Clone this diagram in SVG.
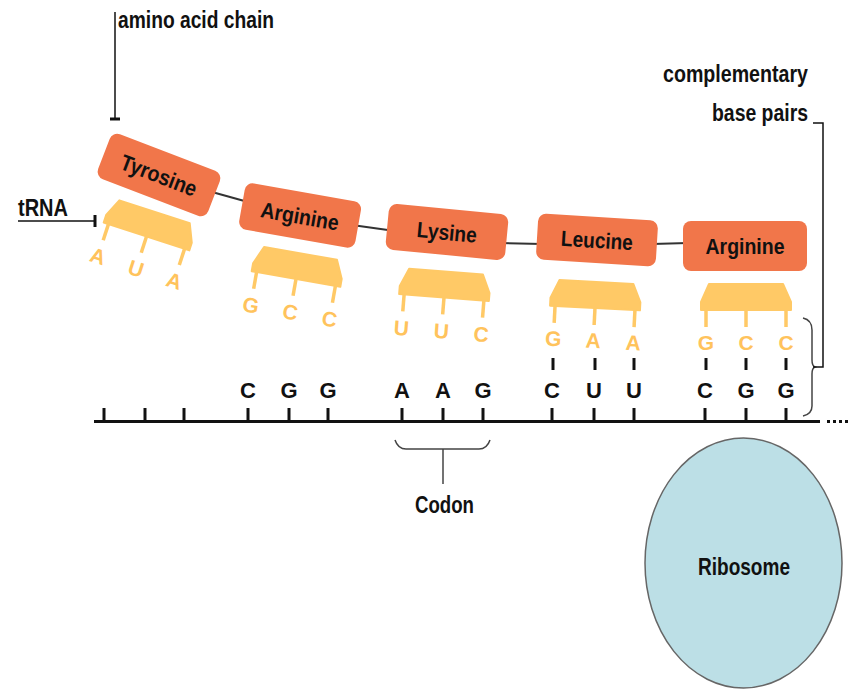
<svg xmlns="http://www.w3.org/2000/svg" width="854" height="689" viewBox="0 0 854 689">
<style>
text{font-family:"Liberation Sans",Arial,sans-serif;font-weight:bold;fill:#111}
.lbl{font-size:23px}
.node rect{fill:#F1764A}
.node text{font-size:22px;text-anchor:middle;fill:#111}
.trap{fill:#FFC966;stroke:#FFC966;stroke-width:2;stroke-linejoin:round}
.leg{stroke:#FFC966;stroke-width:3.5}
.ob{font-size:21px;fill:#FFC35C;text-anchor:middle}
.base{font-size:22px;text-anchor:middle;fill:#111}
.line{stroke:#111;fill:none}
.gray{stroke:#444;fill:none;stroke-width:1.5}
.link{stroke:#333;stroke-width:2;fill:none}
</style>
<defs>
<g id="trna">
<path class="trap" d="M-37,-26 L37,-26 L45,-8 L45,0 L-45,0 L-45,-8 Z"/>
<line class="leg" x1="-40" y1="0" x2="-40" y2="17"/>
<line class="leg" x1="0" y1="0" x2="0" y2="17"/>
<line class="leg" x1="40" y1="0" x2="40" y2="17"/>
</g>
</defs>

<g id="connectors">
<line class="link" x1="212" y1="192" x2="248" y2="202"/>
<line class="link" x1="352" y1="225" x2="395" y2="231"/>
<line class="link" x1="500" y1="243" x2="542" y2="244"/>
<line class="link" x1="652" y1="244" x2="688" y2="243"/>
<polyline class="line" stroke-width="1.5" points="115,12 115,119"/>
<line class="line" stroke-width="3" x1="110" y1="119" x2="120" y2="119"/>
<line class="line" stroke-width="1.5" x1="18" y1="221" x2="95" y2="221"/>
<line class="line" stroke-width="3" x1="95" y1="215" x2="95" y2="227"/>
<path class="gray" d="M395,440 Q398,449 406,449 L479,449 Q487,449 490,440"/>
<line class="gray" x1="443" y1="449" x2="443" y2="484"/>
<path class="gray" d="M803,318 Q812,320 812,330 L812,360 Q812,366 815,367 Q812,368 812,374 L812,406 Q812,414 803,416"/>
<polyline class="line" stroke-width="1.5" points="813,367 823,367 823,123 813,123"/>
</g>

<g id="mrna">
<line class="line" stroke-width="3" x1="94" y1="421.5" x2="820" y2="421.5"/>
<line class="line" stroke-width="3" stroke-dasharray="3,3" x1="827" y1="421.5" x2="851" y2="421.5"/>
<g class="line" stroke-width="3">
<line x1="104" y1="408" x2="104" y2="421"/><line x1="145" y1="408" x2="145" y2="421"/><line x1="184" y1="408" x2="184" y2="421"/>
<line x1="248" y1="408" x2="248" y2="421"/><line x1="289" y1="408" x2="289" y2="421"/><line x1="328" y1="408" x2="328" y2="421"/>
<line x1="402" y1="408" x2="402" y2="421"/><line x1="443" y1="408" x2="443" y2="421"/><line x1="483" y1="408" x2="483" y2="421"/>
<line x1="552" y1="408" x2="552" y2="421"/><line x1="594" y1="408" x2="594" y2="421"/><line x1="634" y1="408" x2="634" y2="421"/>
<line x1="705" y1="408" x2="705" y2="421"/><line x1="746" y1="408" x2="746" y2="421"/><line x1="786" y1="408" x2="786" y2="421"/>
<line x1="553" y1="358" x2="553" y2="370"/><line x1="595" y1="358" x2="595" y2="370"/><line x1="634" y1="358" x2="634" y2="370"/>
<line x1="706" y1="358" x2="706" y2="370"/><line x1="746" y1="358" x2="746" y2="370"/><line x1="786" y1="358" x2="786" y2="370"/>
</g>
<text class="base" x="248" y="398">C</text><text class="base" x="289" y="398">G</text><text class="base" x="328" y="398">G</text>
<text class="base" x="402" y="398">A</text><text class="base" x="443" y="398">A</text><text class="base" x="483" y="398">G</text>
<text class="base" x="552" y="398">C</text><text class="base" x="594" y="398">U</text><text class="base" x="634" y="398">U</text>
<text class="base" x="705" y="398">C</text><text class="base" x="746" y="398">G</text><text class="base" x="786" y="398">G</text>
</g>

<g id="node-tyrosine" class="node" transform="translate(159,175) rotate(21)">
<rect x="-59" y="-24" width="118" height="48" rx="8"/>
<text x="0" y="8" textLength="80" lengthAdjust="spacingAndGlyphs">Tyrosine</text>
</g>
<g id="node-arginine1" class="node" transform="translate(300,216) rotate(10)">
<rect x="-59" y="-24" width="118" height="47" rx="8"/>
<text x="0" y="8" textLength="79" lengthAdjust="spacingAndGlyphs">Arginine</text>
</g>
<g id="node-lysine" class="node" transform="translate(447,232) rotate(5.5)">
<rect x="-60" y="-23" width="120" height="46" rx="8"/>
<text x="0" y="8" textLength="60" lengthAdjust="spacingAndGlyphs">Lysine</text>
</g>
<g id="node-leucine" class="node" transform="translate(597,240) rotate(3.5)">
<rect x="-60" y="-23" width="120" height="46" rx="8"/>
<text x="0" y="8" textLength="72" lengthAdjust="spacingAndGlyphs">Leucine</text>
</g>
<g id="node-arginine2" class="node" transform="translate(745,246)">
<rect x="-62" y="-25" width="124" height="50" rx="8"/>
<text x="0" y="8" textLength="79" lengthAdjust="spacingAndGlyphs">Arginine</text>
</g>

<g id="trna-tyrosine" transform="translate(146.5,236.5) rotate(18)">
<use href="#trna"/>
<text class="ob" x="-40" y="41">A</text><text class="ob" x="0" y="41">U</text><text class="ob" x="40" y="41">A</text>
</g>
<g id="trna-arginine1" transform="translate(296,279) rotate(10)">
<use href="#trna"/>
<text class="ob" x="-40" y="41">G</text><text class="ob" x="0" y="41">C</text><text class="ob" x="40" y="41">C</text>
</g>
<g id="trna-lysine" transform="translate(444,297.5) rotate(4.5)">
<use href="#trna"/>
<text class="ob" x="-40" y="41">U</text><text class="ob" x="0" y="41">U</text><text class="ob" x="40" y="41">C</text>
</g>
<g id="trna-leucine" transform="translate(595,308) rotate(3)">
<use href="#trna"/>
<text class="ob" x="-40" y="40">G</text><text class="ob" x="0" y="40">A</text><text class="ob" x="40" y="40">A</text>
</g>
<g id="trna-arginine2" transform="translate(746,310)">
<use href="#trna"/>
<text class="ob" x="-40" y="40">G</text><text class="ob" x="0" y="40">C</text><text class="ob" x="40" y="40">C</text>
</g>

<g id="ribosome">
<ellipse cx="743.5" cy="563" rx="98.5" ry="125" fill="#BCDFE6" stroke="#666" stroke-width="1.5"/>
<text x="744" y="575" font-size="24" text-anchor="middle" textLength="92" lengthAdjust="spacingAndGlyphs">Ribosome</text>
</g>

<g id="labels">
<text class="lbl" x="118" y="28" textLength="156" lengthAdjust="spacingAndGlyphs">amino acid chain</text>
<text class="lbl" x="18" y="216" textLength="50" lengthAdjust="spacingAndGlyphs">tRNA</text>
<text class="lbl" x="663" y="82" textLength="145" lengthAdjust="spacingAndGlyphs">complementary</text>
<text class="lbl" x="712" y="121" textLength="96" lengthAdjust="spacingAndGlyphs">base pairs</text>
<text x="415" y="513" font-size="24" textLength="59" lengthAdjust="spacingAndGlyphs">Codon</text>
</g>
</svg>
